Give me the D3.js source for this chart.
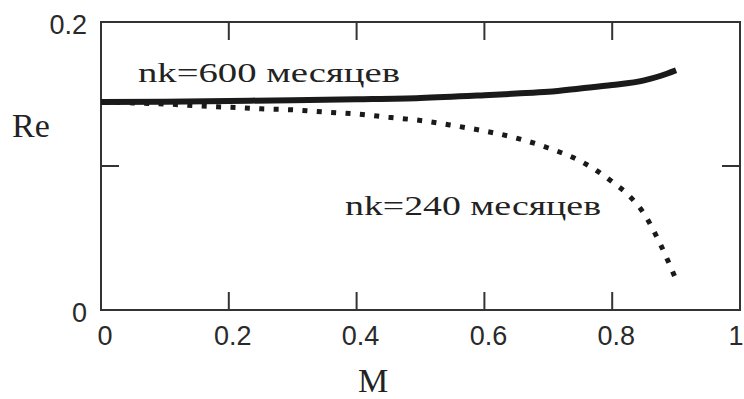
<!DOCTYPE html>
<html><head><meta charset="utf-8">
<script src="https://cdn.jsdelivr.net/npm/d3@7"></script>
<style>html,body{margin:0;padding:0;background:#fff;}svg{display:block;}</style>
</head><body>
<svg id="c" width="744" height="399"></svg>
<script>
// ---- data ----
const m600  = [0,0.1,0.2,0.3,0.4,0.5,0.6,0.65,0.7,0.75,0.8,0.85,0.875,0.9];
const re600 = [0.1444,0.1447,0.1452,0.1457,0.1464,0.1473,0.1492,0.1503,0.1515,0.1538,0.1562,0.1595,0.1625,0.1665];
const m240  = [0,0.05,0.1,0.15,0.2,0.25,0.3,0.35,0.4,0.45,0.5,0.55,0.6,0.65,0.7,0.75,0.775,0.8,0.825,0.85,0.875,0.9];
const re240 = [0.1444,0.1438,0.1431,0.1418,0.1408,0.1397,0.139,0.1375,0.1361,0.1338,0.1316,0.1282,0.1243,0.1194,0.1125,0.1035,0.097,0.089,0.080,0.0667,0.046,0.021];
const xTicks = [0,0.2,0.4,0.6,0.8,1];
const xTickLabels = ["0","0.2","0.4","0.6","0.8","1"];
const yTicks = [0,0.2];
const yTickLabels = ["0","0.2"];
const yInnerTicks = [0.1];
const xLabel = "M", yLabel = "Re";
const label600 = "nk=600 месяцев", label240 = "nk=240 месяцев";

// ---- layout ----
const L = 101, R = 740, T = 22, B = 310;
const x = d3.scaleLinear().domain([0,1]).range([L,R]);
const y = d3.scaleLinear().domain([0,0.2]).range([B,T]);
const svg = d3.select("#c");
const ink = "#1a1a1a";

// frame
svg.append("rect").attr("x",L).attr("y",T).attr("width",R-L).attr("height",B-T)
  .attr("fill","none").attr("stroke","#333").attr("stroke-width",2);

// inner ticks on all four sides
const tl = 18;
const midX = xTicks.filter(v=>v>0 && v<1);
svg.selectAll(".tb").data(midX).join("line")
  .attr("x1",d=>x(d)).attr("x2",d=>x(d)).attr("y1",B).attr("y2",B-tl)
  .attr("stroke","#333").attr("stroke-width",2);
svg.selectAll(".tt").data(midX).join("line")
  .attr("x1",d=>x(d)).attr("x2",d=>x(d)).attr("y1",T).attr("y2",T+tl)
  .attr("stroke","#333").attr("stroke-width",2);
svg.selectAll(".tlft").data(yInnerTicks).join("line")
  .attr("x1",L).attr("x2",L+tl).attr("y1",d=>y(d)).attr("y2",d=>y(d))
  .attr("stroke","#333").attr("stroke-width",2);
svg.selectAll(".trt").data(yInnerTicks).join("line")
  .attr("x1",R).attr("x2",R-tl).attr("y1",d=>y(d)).attr("y2",d=>y(d))
  .attr("stroke","#333").attr("stroke-width",2);

// tick labels
const tickFont = "'Liberation Sans', Arial, sans-serif";
svg.selectAll(".xl").data(xTicks).join("text")
  .attr("x",d=>Math.min(x(d)+4, 736)).attr("y",345).attr("text-anchor","middle")
  .attr("font-family",tickFont).attr("font-size",27).attr("fill","#2a2a2a")
  .text((d,i)=>xTickLabels[i]);
svg.selectAll(".yl").data(yTicks).join("text")
  .attr("x",87).attr("y",d=>y(d)+12).attr("text-anchor","end")
  .attr("font-family",tickFont).attr("font-size",27).attr("fill","#2a2a2a")
  .text((d,i)=>yTickLabels[i]);

// axis titles
const serif = "'Liberation Serif', 'Times New Roman', serif";
svg.append("text").attr("x",12).attr("y",137).attr("font-family",serif)
  .attr("font-size",34).attr("fill","#222").text(yLabel);
svg.append("text").attr("x",373).attr("y",392).attr("text-anchor","middle")
  .attr("font-family",serif).attr("font-size",34).attr("fill","#222").text(xLabel);

// series
const line = d3.line().x(d=>x(d[0])).y(d=>y(d[1])).curve(d3.curveMonotoneX);
svg.append("path").datum(m240.map((m,i)=>[m,re240[i]]))
  .attr("d",line).attr("fill","none").attr("stroke",ink)
  .attr("stroke-width",5).attr("stroke-dasharray","5 9.4").attr("stroke-linecap","butt");
svg.append("path").datum(m600.map((m,i)=>[m,re600[i]]))
  .attr("d",line).attr("fill","none").attr("stroke",ink)
  .attr("stroke-width",6).attr("stroke-linecap","butt");

// series labels
svg.append("text").attr("x",138).attr("y",82).attr("font-family",serif)
  .attr("font-size",27).attr("fill","#222")
  .attr("textLength",262).attr("lengthAdjust","spacingAndGlyphs").text(label600);
svg.append("text").attr("x",345).attr("y",215).attr("font-family",serif)
  .attr("font-size",27).attr("fill","#222")
  .attr("textLength",256).attr("lengthAdjust","spacingAndGlyphs").text(label240);
</script>
</body></html>
